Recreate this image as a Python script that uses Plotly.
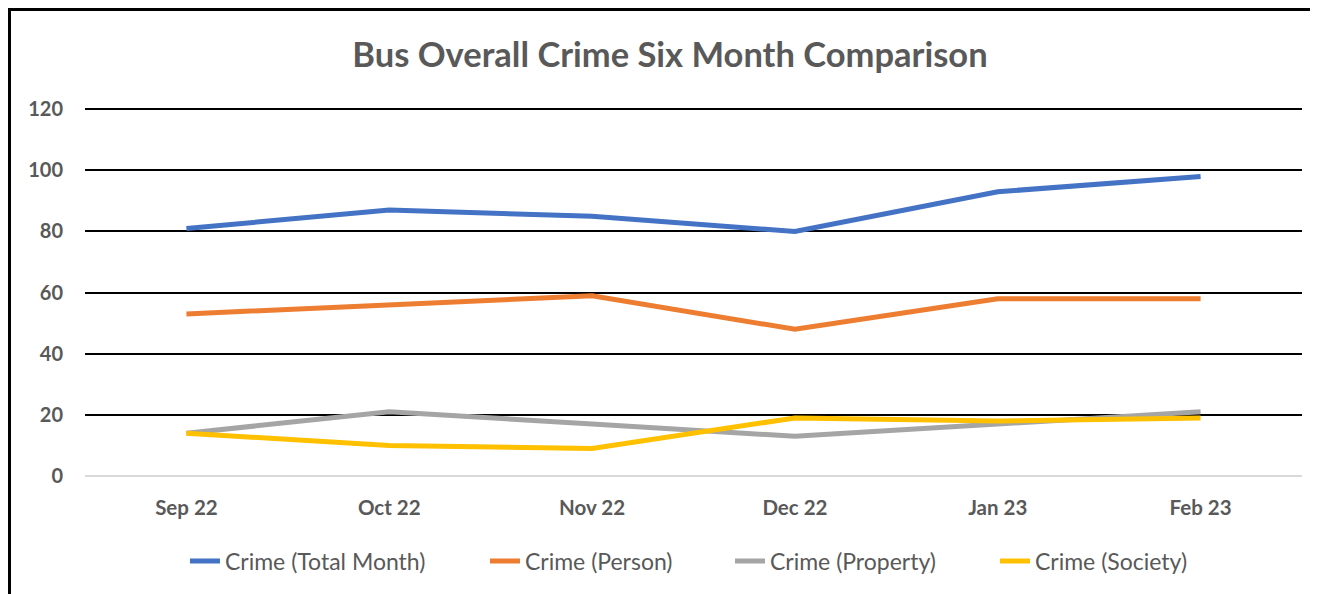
import plotly.graph_objects as go

months = ["Sep 22", "Oct 22", "Nov 22", "Dec 22", "Jan 23", "Feb 23"]
total_month = [81, 87, 85, 80, 93, 98]
person = [53, 56, 59, 48, 58, 58]
property_ = [14, 21, 17, 13, 17, 21]
society = [14, 10, 9, 19, 18, 19]

series_names = ["Crime (Total Month)", "Crime (Person)", "Crime (Property)", "Crime (Society)"]
series_values = [total_month, person, property_, society]
colors = ["#4472C4", "#ED7D31", "#A5A5A5", "#FFC000"]
legend_text_x = [225, 525, 770, 1035]  # reference px where each legend label starts

FONT = "Lato"
GREY = "#595959"
OFF = 8  # page body margin

W, H = 1310, 586
L = 85 - OFF
T = 108 - OFF
R = W - (1302 - OFF)
B = H - (476 - OFF)
pw, ph = W - L - R, H - T - B

def px_to_paper_x(px):
    return (px - OFF - L) / pw

def px_to_paper_y(py):
    return (H - B - (py - OFF)) / ph

fig = go.Figure()
for i, (name, vals, col) in enumerate(zip(series_names, series_values, colors)):
    lg = "legend" if i == 0 else f"legend{i + 1}"
    fig.add_trace(go.Scatter(x=months, y=vals, name=name, mode="lines",
                             line=dict(color=col, width=5), legend=lg))

legend_common = dict(orientation="h", yanchor="middle", xanchor="left",
                     font=dict(family=FONT, size=23, color=GREY),
                     bgcolor="rgba(0,0,0,0)", borderwidth=0)
legends = {}
for i, tx in enumerate(legend_text_x):
    key = "legend" if i == 0 else f"legend{i + 1}"
    legends[key] = dict(legend_common, x=px_to_paper_x(tx - 40), y=px_to_paper_y(561))

fig.update_layout(
    width=W, height=H,
    margin=dict(l=L, r=R, t=T, b=B),
    plot_bgcolor="white", paper_bgcolor="white",
    title=dict(text="<b>Bus Overall Crime Six Month Comparison</b>",
               x=(670 - OFF) / W, xanchor="center", y=1 - (55 - OFF) / H, yanchor="middle",
               font=dict(family=FONT, size=34.5, color=GREY)),
    xaxis=dict(showgrid=False, showline=False, zeroline=False, range=[-0.5, 5.5],
               tickfont=dict(family=FONT, size=20.5, color=GREY, weight="bold"),
               ticks="", ticklabelstandoff=17),
    yaxis=dict(range=[0, 120.4], tickvals=[0, 20, 40, 60, 80, 100, 120],
               showgrid=True, gridcolor="black", gridwidth=2,
               zeroline=True, zerolinecolor="#D9D9D9", zerolinewidth=1.5,
               showline=False, ticks="",
               tickfont=dict(family=FONT, size=20, color=GREY, weight="bold"),
               ticklabelstandoff=21),
    showlegend=True,
    shapes=[
        dict(type="line", xref="paper", yref="paper",
             x0=px_to_paper_x(8), x1=px_to_paper_x(1330),
             y0=px_to_paper_y(9.5), y1=px_to_paper_y(9.5),
             line=dict(color="black", width=3)),
        dict(type="line", xref="paper", yref="paper",
             x0=px_to_paper_x(9.5), x1=px_to_paper_x(9.5),
             y0=px_to_paper_y(8), y1=px_to_paper_y(600),
             line=dict(color="black", width=3)),
    ],
    **legends,
)

fig.write_html("out.html")
